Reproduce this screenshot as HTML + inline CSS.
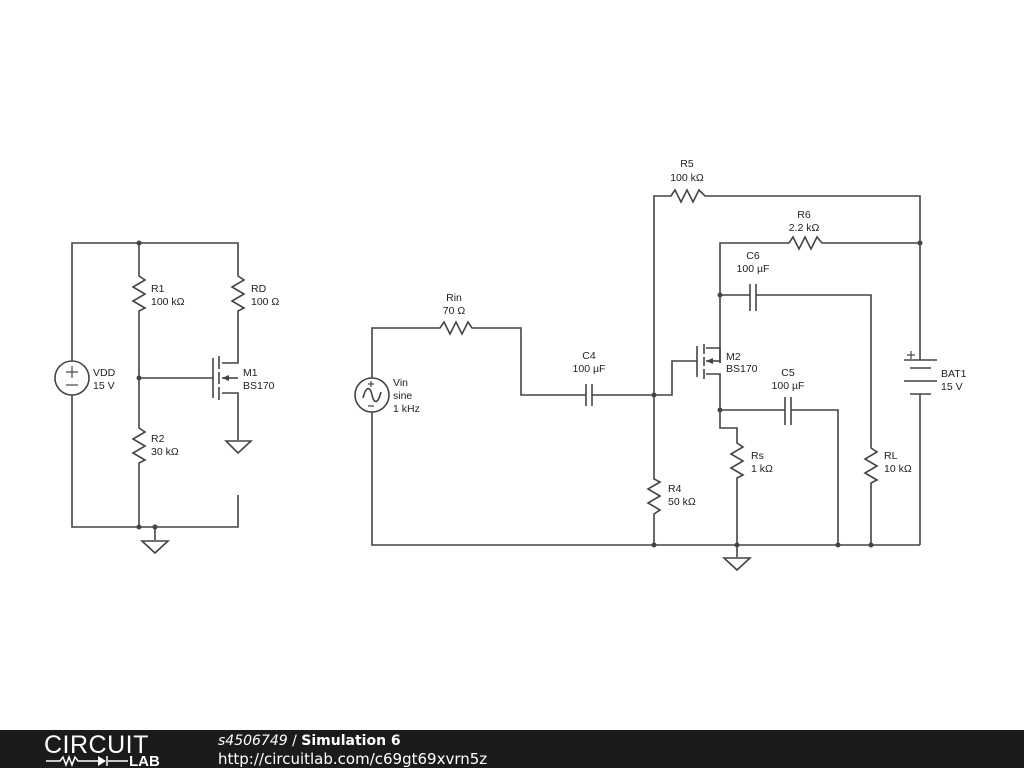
<!DOCTYPE html>
<html><head><meta charset="utf-8"><style>
html,body{margin:0;padding:0;background:#fff;width:1024px;height:768px;overflow:hidden}
svg{display:block}
text{font-family:"Liberation Sans","DejaVu Sans",sans-serif;font-size:10.5px;fill:#222}
</style></head><body>
<svg width="1024" height="768" viewBox="0 0 1024 768" xmlns="http://www.w3.org/2000/svg">
<g stroke="#444" stroke-width="1.6" fill="none">
<polyline points="72,361 72,243 238,243 238,273"/>
<polyline points="72,395 72,527 238,527 238,495"/>
<line x1="139" y1="243" x2="139" y2="273"/>
<polyline points="139,273 139,276 145,280 133,287 145,294 133,301 145,308 139,311 139,313"/>
<polyline points="139,313 139,425"/>
<polyline points="139,425 139,428 145,432 133,439 145,446 133,453 145,460 139,463 139,465"/>
<line x1="139" y1="465" x2="139" y2="527"/>
<polyline points="238,273 238,276 244,280 232,287 244,294 232,301 244,308 238,311 238,313"/>
<polyline points="238,313 238,363 222,363"/>
<polyline points="222,393 238,393 238,440"/>
<polygon points="226,441 251,441 238,453"/>
<line x1="139" y1="378" x2="213" y2="378"/>
<line x1="213" y1="358" x2="213" y2="398"/>
<line x1="219" y1="356" x2="219" y2="369"/>
<line x1="219" y1="372" x2="219" y2="384"/>
<line x1="219" y1="387" x2="219" y2="400"/>
<line x1="222" y1="378" x2="238" y2="378"/>
<line x1="155" y1="527" x2="155" y2="540"/>
<polygon points="142,541 168,541 155,553"/>
<circle cx="72" cy="378" r="17"/>
<polyline points="372,378 372,328 436,328"/>
<polyline points="436,328 440,328 444,322 450,334 456,322 462,334 468,322 472,328 521,328 521,395 586,395"/>
<line x1="586" y1="384" x2="586" y2="406"/>
<line x1="592" y1="384" x2="592" y2="406"/>
<polyline points="592,395 672,395 672,361 697,361"/>
<polyline points="372,412 372,545 920,545"/>
<polyline points="654,545 654,517"/>
<polyline points="654,517 654,514 660,510 648,503 660,496 648,489 660,482 654,479 654,476"/>
<polyline points="654,476 654,196 668,196"/>
<polyline points="668,196 671,196 675,190 681,202 687,190 693,202 699,190 705,196 920,196 920,360"/>
<line x1="920" y1="394" x2="920" y2="545"/>
<polyline points="720,363 720,243 786,243"/>
<polyline points="786,243 789,243 793,237 799,249 805,237 811,249 817,237 822,243 920,243"/>
<line x1="720" y1="295" x2="750" y2="295"/>
<line x1="750" y1="284" x2="750" y2="311"/>
<line x1="756" y1="284" x2="756" y2="311"/>
<polyline points="756,295 871,295 871,445"/>
<polyline points="871,445 871,448 877,452 865,459 877,466 865,473 877,480 871,483 871,485 871,545"/>
<line x1="697" y1="346" x2="697" y2="377"/>
<line x1="704" y1="344" x2="704" y2="354"/>
<line x1="704" y1="357" x2="704" y2="366"/>
<line x1="704" y1="369" x2="704" y2="379"/>
<polyline points="706,348 720,348 720,363"/>
<line x1="706" y1="361" x2="720" y2="361"/>
<polyline points="706,374 720,374 720,428 737,428 737,440"/>
<polyline points="737,440 737,443 743,447 731,454 743,461 731,468 743,475 737,478 737,480 737,557"/>
<polygon points="724,558 750,558 737,570"/>
<line x1="720" y1="410" x2="785" y2="410"/>
<line x1="785" y1="397" x2="785" y2="425"/>
<line x1="791" y1="397" x2="791" y2="425"/>
<polyline points="791,410 838,410 838,545"/>
<circle cx="372" cy="395" r="17"/>
<path d="M363,398 C366,386 370,386 372,395 C374,404 378,404 381,392"/>
<line x1="904" y1="360" x2="937" y2="360"/>
<line x1="910" y1="368" x2="931" y2="368"/>
<line x1="904" y1="381" x2="937" y2="381"/>
<line x1="910" y1="394" x2="931" y2="394"/>
</g>
<g fill="#444">
<polygon points="222,378 229,375 229,381"/>
<polygon points="706,361 713,358 713,364"/>
<circle cx="139" cy="243" r="2.5"/><circle cx="139" cy="378" r="2.5"/><circle cx="139" cy="527" r="2.5"/><circle cx="155" cy="527" r="2.5"/>
<circle cx="654" cy="395" r="2.5"/><circle cx="920" cy="243" r="2.5"/><circle cx="720" cy="295" r="2.5"/><circle cx="720" cy="410" r="2.5"/>
<circle cx="654" cy="545" r="2.5"/><circle cx="737" cy="545" r="2.5"/><circle cx="838" cy="545" r="2.5"/><circle cx="871" cy="545" r="2.5"/>
</g>
<g stroke="#444" stroke-width="1.2">
<line x1="66" y1="372" x2="78" y2="372"/><line x1="72" y1="366" x2="72" y2="378"/>
<line x1="66" y1="385" x2="78" y2="385"/>
<line x1="368" y1="384" x2="374" y2="384"/><line x1="371" y1="381" x2="371" y2="387"/>
<line x1="368" y1="406" x2="374" y2="406"/>
<line x1="907" y1="355" x2="915" y2="355"/><line x1="911" y1="351" x2="911" y2="359"/>
</g>
<text x="151" y="292">R1</text><text x="151" y="305">100 kΩ</text>
<text x="251" y="292">RD</text><text x="251" y="305">100 Ω</text>
<text x="151" y="442">R2</text><text x="151" y="455">30 kΩ</text>
<text x="93" y="376">VDD</text><text x="93" y="389">15 V</text>
<text x="243" y="376">M1</text><text x="243" y="389">BS170</text>
<text x="687" y="167" text-anchor="middle">R5</text><text x="687" y="181" text-anchor="middle">100 kΩ</text>
<text x="804" y="218" text-anchor="middle">R6</text><text x="804" y="231" text-anchor="middle">2.2 kΩ</text>
<text x="753" y="259" text-anchor="middle">C6</text><text x="753" y="272" text-anchor="middle">100 µF</text>
<text x="454" y="301" text-anchor="middle">Rin</text><text x="454" y="314" text-anchor="middle">70 Ω</text>
<text x="589" y="359" text-anchor="middle">C4</text><text x="589" y="372" text-anchor="middle">100 µF</text>
<text x="788" y="376" text-anchor="middle">C5</text><text x="788" y="389" text-anchor="middle">100 µF</text>
<text x="726" y="360">M2</text><text x="726" y="372">BS170</text>
<text x="393" y="386">Vin</text><text x="393" y="399">sine</text><text x="393" y="412">1 kHz</text>
<text x="668" y="492">R4</text><text x="668" y="505">50 kΩ</text>
<text x="751" y="459">Rs</text><text x="751" y="472">1 kΩ</text>
<text x="884" y="459">RL</text><text x="884" y="472">10 kΩ</text>
<text x="941" y="377">BAT1</text><text x="941" y="390">15 V</text>
<rect x="0" y="730" width="1024" height="38" fill="#1b1b1b"/>
<text x="44" y="753" style="font-size:25px;fill:#fff;letter-spacing:0.5px">CIRCUIT</text>
<g stroke="#fff" stroke-width="1.5" fill="none">
<polyline points="46,761 60,761 63,757 66,765 69,757 72,765 75,757 78,761 98,761"/>
<line x1="108" y1="761" x2="128" y2="761"/><line x1="107" y1="756" x2="107" y2="766"/>
</g>
<polygon points="98,756 98,766 106,761" fill="#fff"/>
<text x="129" y="766" style="font-size:15px;fill:#fff;font-weight:bold">LAB</text>
<text x="218" y="745" style="font-family:'DejaVu Sans',sans-serif;font-size:14px;fill:#fff"><tspan font-style="italic">s4506749</tspan> / <tspan font-weight="bold">Simulation 6</tspan></text>
<text x="218" y="764" style="font-family:'DejaVu Sans',sans-serif;font-size:15px;fill:#fff">http://circuitlab.com/c69gt69xvrn5z</text>
</svg>
</body></html>
